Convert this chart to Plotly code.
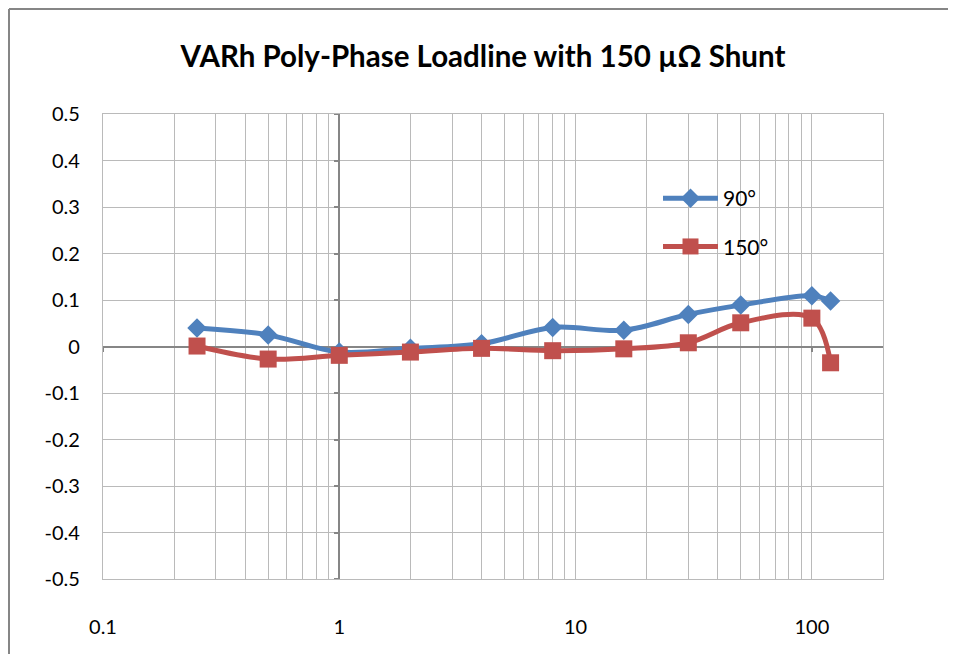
import math
import plotly.graph_objects as go

# ---- data ----
current = [0.25, 0.5, 1, 2, 4, 8, 16, 30, 50, 100, 120]
err_90 = [0.040, 0.025, -0.012, -0.004, 0.006, 0.041, 0.035, 0.069, 0.089, 0.109, 0.098]
err_150 = [0.001, -0.027, -0.019, -0.012, -0.004, -0.009, -0.005, 0.008, 0.051, 0.061, -0.035]

y_ticks = [0.5, 0.4, 0.3, 0.2, 0.1, 0, -0.1, -0.2, -0.3, -0.4, -0.5]
y_tick_labels = ["0.5", "0.4", "0.3", "0.2", "0.1", "0", "-0.1", "-0.2", "-0.3", "-0.4", "-0.5"]
x_ticks = [0.1, 1, 10, 100]
x_tick_labels = ["0.1", "1", "10", "100"]
x_minor = [0.2, 0.3, 0.4, 0.5, 0.6, 0.7, 0.8, 0.9,
           2, 3, 4, 5, 6, 7, 8, 9,
           20, 30, 40, 50, 60, 70, 80, 90, 200]
x_range = [0.1, 200]
y_range = [-0.5, 0.5]

FONT = "Lato"
GRID = "#BABABA"
AXIS = "#868686"
BLUE = "#4F81BD"
RED = "#C0504D"

# figure sits inside the page's default 8px body margin
W, H = 940, 646
L, R, T, B = 95, 65, 106, 75
PW, PH = W - L - R, H - T - B

xr = [math.log10(x_range[0]), math.log10(x_range[1])]

fig = go.Figure()

# invisible trace that creates the overlay axes (axis lines crossing at x=1 and y=0)
fig.add_trace(go.Scatter(x=[], y=[], xaxis="x2", yaxis="y2", showlegend=False, hoverinfo="skip"))

fig.add_trace(go.Scatter(
    x=current, y=err_90, name="90°", mode="lines+markers",
    line=dict(color=BLUE, width=5, shape="spline"),
    marker=dict(symbol="diamond", size=15, color=BLUE),
    legendgroup="a",
))
fig.add_trace(go.Scatter(
    x=current, y=err_150, name="150°", mode="lines+markers",
    line=dict(color=RED, width=5, shape="spline"),
    marker=dict(symbol="square", size=17, color=RED),
    legendgroup="b",
))

pos_x1 = (0 - xr[0]) / (xr[1] - xr[0])

bx = (1 - L) / PW          # left edge of the chart-area border (paper coords)
by = (T + PH - 1) / PH     # top edge of the chart-area border (paper coords)

fig.update_layout(
    width=W, height=H,
    margin=dict(l=L, r=R, t=T, b=B),
    paper_bgcolor="white", plot_bgcolor="white",
    font=dict(family=FONT, size=20, color="black"),
    title=dict(text="<b>VARh Poly-Phase Loadline with 150 µΩ Shunt</b>",
               x=475 / W, xanchor="center", y=1 - 49 / H, yanchor="middle",
               font=dict(family=FONT, size=29.5, color="black")),
    showlegend=True,
    legend=dict(x=(650 - L) / PW, y=(T + PH - 170) / PH, xanchor="left", yanchor="top",
                bgcolor="rgba(0,0,0,0)", font=dict(family=FONT, size=21),
                traceorder="grouped", tracegroupgap=18, itemwidth=55),
    xaxis=dict(type="log", range=xr, tickvals=x_ticks, ticktext=x_tick_labels,
               showgrid=True, gridcolor=GRID, gridwidth=1.3,
               minor=dict(tickvals=x_minor, showgrid=True, gridcolor=GRID, gridwidth=1.3, ticks=""),
               showline=True, linecolor=GRID, linewidth=1.3, mirror=True,
               ticks="", ticklabelstandoff=30, zeroline=False),
    yaxis=dict(range=y_range, tickvals=y_ticks, ticktext=y_tick_labels,
               showgrid=True, gridcolor=GRID, gridwidth=1.3,
               showline=True, linecolor=GRID, linewidth=1.3, mirror=True,
               ticks="", ticklabelstandoff=18, zeroline=False),
    xaxis2=dict(type="log", range=xr, overlaying="x", anchor="free", position=0.5,
                showgrid=False, zeroline=False, showline=True, linecolor=AXIS, linewidth=1.5,
                tickvals=x_ticks, ticks="outside", ticklen=5, tickcolor=AXIS, tickwidth=1.5,
                showticklabels=False, layer="below traces"),
    yaxis2=dict(range=y_range, overlaying="y", anchor="free", position=pos_x1,
                showgrid=False, zeroline=False, showline=True, linecolor=AXIS, linewidth=1.5,
                tickvals=y_ticks, ticks="outside", ticklen=5, tickcolor=AXIS, tickwidth=1.5,
                showticklabels=False, layer="below traces"),
    shapes=[
        dict(type="line", xref="paper", yref="paper", x0=bx, x1=bx, y0=-0.5, y1=by,
             line=dict(color=AXIS, width=2), layer="below"),
        dict(type="line", xref="paper", yref="paper", x0=bx, x1=1.5, y0=by, y1=by,
             line=dict(color=AXIS, width=2), layer="below"),
    ],
)

fig.write_html("out.html")
